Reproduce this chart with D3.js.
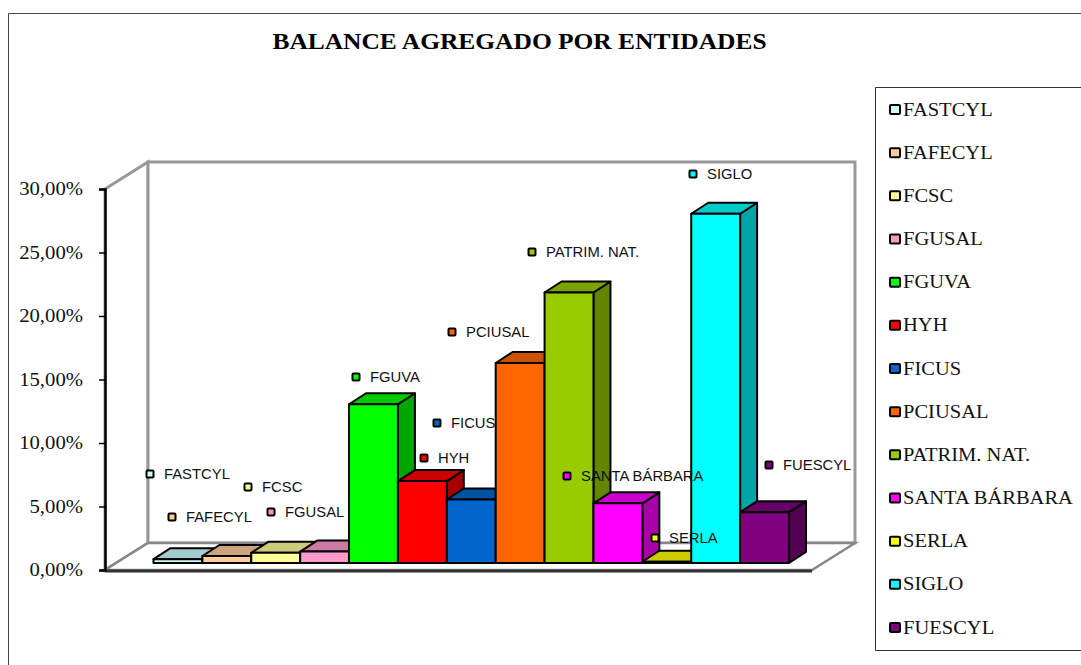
<!DOCTYPE html>
<html>
<head>
<meta charset="utf-8">
<script src="https://cdn.jsdelivr.net/npm/d3@7"></script>
<style>
  html, body { margin: 0; padding: 0; background: #fff; }
  svg { display: block; }
</style>
</head>
<body>
<div id="chart"></div>
<script>
var categories = ["FASTCYL", "FAFECYL", "FCSC", "FGUSAL", "FGUVA", "HYH", "FICUS", "PCIUSAL", "PATRIM. NAT.", "SANTA BÁRBARA", "SERLA", "SIGLO", "FUESCYL"];
var values = [0.3, 0.55, 0.8, 0.9, 12.5, 6.45, 5.0, 15.75, 21.3, 4.7, 0.1, 27.5, 4.0];
var colors = ["#CCFFFF", "#FFCC99", "#FFFF99", "#FF99CC", "#00FF00", "#FF0000", "#0066CC", "#FF6600", "#99CC00", "#FF00FF", "#FFFF00", "#00FFFF", "#800080"];
var yTicks = [0, 5, 10, 15, 20, 25, 30];

// where excel left each data label (marker centre)
var labelX = [150, 172, 248, 271, 356, 424, 437, 452, 532, 567, 655, 693, 769];
var labelY = [474, 517, 487, 512, 377, 458, 423, 332, 252, 476, 538, 174, 465];

var width = 1081, height = 665;

var svg = d3.select("#chart").append("svg")
  .attr("width", width)
  .attr("height", height);

// set the ranges
var y = d3.scaleLinear().domain([0, 30]).range([570, 189]);
var x = d3.scaleBand().domain(categories).range([153.5, 789]);

// 3d offsets: whole box depth, and depth of one bar
var boxDx = 43, boxDy = -27;
var barDx = 17, barDy = -11;
var barBase = -7;
var left = 105, right = 812;

function pts(a) {
  return a.map(function(p) { return p[0] + "," + p[1]; }).join(" ");
}
function shade(c, k) {
  var r = d3.rgb(c);
  return d3.rgb(r.r * k, r.g * k, r.b * k).formatHex();
}

// outer frame, runs off the right and bottom of the picture
svg.append("path")
  .attr("d", "M8.5," + height + "V13.5H" + width)
  .attr("fill", "none")
  .attr("stroke", "#444")
  .attr("stroke-width", 1);

// the reference picture was stretched sideways, so the text is too
svg.append("text")
  .attr("transform", "translate(519.5,49) scale(1.107,1)")
  .attr("text-anchor", "middle")
  .attr("font-family", "Liberation Serif")
  .attr("font-weight", "bold")
  .attr("font-size", 23)
  .text("BALANCE AGREGADO POR ENTIDADES");

// walls and floor
var wall = svg.append("g").attr("fill", "#fff").attr("stroke", "#999").attr("stroke-width", 3);
wall.append("polygon")
  .attr("points", pts([[left, y(30)], [left + boxDx, y(30) + boxDy], [left + boxDx, y(0) + boxDy], [left, y(0)]]));
wall.append("rect")
  .attr("x", left + boxDx)
  .attr("y", y(30) + boxDy)
  .attr("width", right - left)
  .attr("height", y(0) - y(30));
svg.append("polygon")
  .attr("points", pts([[left, y(0)], [left + boxDx, y(0) + boxDy], [right + boxDx, y(0) + boxDy], [right, y(0)]]))
  .attr("fill", "#fff")
  .attr("stroke", "#888")
  .attr("stroke-width", 2.5);
svg.append("line")
  .attr("x1", left).attr("x2", right)
  .attr("y1", y(0) + 1).attr("y2", y(0) + 1)
  .attr("stroke", "#333")
  .attr("stroke-width", 3);

// y axis
var axis = svg.append("g")
  .attr("transform", "translate(" + left + ",0)")
  .call(d3.axisLeft(y).tickValues(yTicks).tickSize(6).tickPadding(0)
    .tickFormat(function(d) { return d3.format(".2f")(d).replace(".", ",") + "%"; }));
axis.select(".domain").attr("stroke", "#000").attr("stroke-width", 2.5);
axis.selectAll(".tick line").attr("stroke", "#000").attr("stroke-width", 1.5);
axis.selectAll(".tick text")
  .attr("x", 0)
  .attr("transform", "translate(-22,0) scale(1.12,1)")
  .attr("font-family", "Liberation Serif")
  .attr("font-size", 18.5)
  .attr("fill", "#111");

// the bars, each one a front, top and side face
var bars = svg.selectAll(".bar")
  .data(categories)
  .enter().append("g")
  .attr("class", "bar")
  .attr("stroke", "#000")
  .attr("stroke-width", 2)
  .attr("stroke-linejoin", "round");

function barLeft(d) { return x(d); }
function barRight(d) { return x(d) + x.bandwidth(); }
function barTop(d, i) { return y(values[i]) + barBase; }
function barBottom() { return y(0) + barBase; }

bars.append("polygon")
  .attr("points", function(d, i) {
    var t = barTop(d, i), b = barBottom(), r = barRight(d);
    return pts([[r, t], [r + barDx, t + barDy], [r + barDx, b + barDy], [r, b]]);
  })
  .attr("fill", function(d, i) { return shade(colors[i], 0.65); });
bars.append("polygon")
  .attr("points", function(d, i) {
    var t = barTop(d, i), l = barLeft(d), r = barRight(d);
    return pts([[l, t], [l + barDx, t + barDy], [r + barDx, t + barDy], [r, t]]);
  })
  .attr("fill", function(d, i) { return shade(colors[i], 0.8); });
bars.append("rect")
  .attr("x", barLeft)
  .attr("y", barTop)
  .attr("width", x.bandwidth())
  .attr("height", function(d, i) { return barBottom() - barTop(d, i); })
  .attr("fill", function(d, i) { return colors[i]; });

// data labels
var labels = svg.selectAll(".dataLabel")
  .data(categories)
  .enter().append("g")
  .attr("class", "dataLabel")
  .attr("transform", function(d, i) { return "translate(" + labelX[i] + "," + labelY[i] + ")"; });
labels.append("rect")
  .attr("x", -3.5).attr("y", -3.5)
  .attr("width", 7).attr("height", 7)
  .attr("rx", 1)
  .attr("fill", function(d, i) { return colors[i]; })
  .attr("stroke", "#000")
  .attr("stroke-width", 2);
labels.append("text")
  .attr("transform", "translate(14,5) scale(1.06,1)")
  .attr("font-family", "Liberation Sans")
  .attr("font-size", 14)
  .attr("fill", "#111")
  .text(function(d) { return d; });

// legend
svg.append("path")
  .attr("d", "M" + width + ",87.5H875.5V650.5H" + width)
  .attr("fill", "none")
  .attr("stroke", "#333");

var legendY = d3.scalePoint().domain(categories).range([110, 628]);
var legend = svg.selectAll(".legendItem")
  .data(categories)
  .enter().append("g")
  .attr("class", "legendItem")
  .attr("transform", function(d) { return "translate(889," + legendY(d) + ")"; });
legend.append("rect")
  .attr("x", 1).attr("y", -5)
  .attr("width", 10).attr("height", 9)
  .attr("rx", 1)
  .attr("fill", function(d, i) { return colors[i]; })
  .attr("stroke", "#000")
  .attr("stroke-width", 2);
legend.append("text")
  .attr("transform", "translate(14,5.5) scale(1.14,1)")
  .attr("font-family", "Liberation Serif")
  .attr("font-size", 18)
  .attr("fill", "#111")
  .text(function(d) { return d; });
</script>
</body>
</html>
